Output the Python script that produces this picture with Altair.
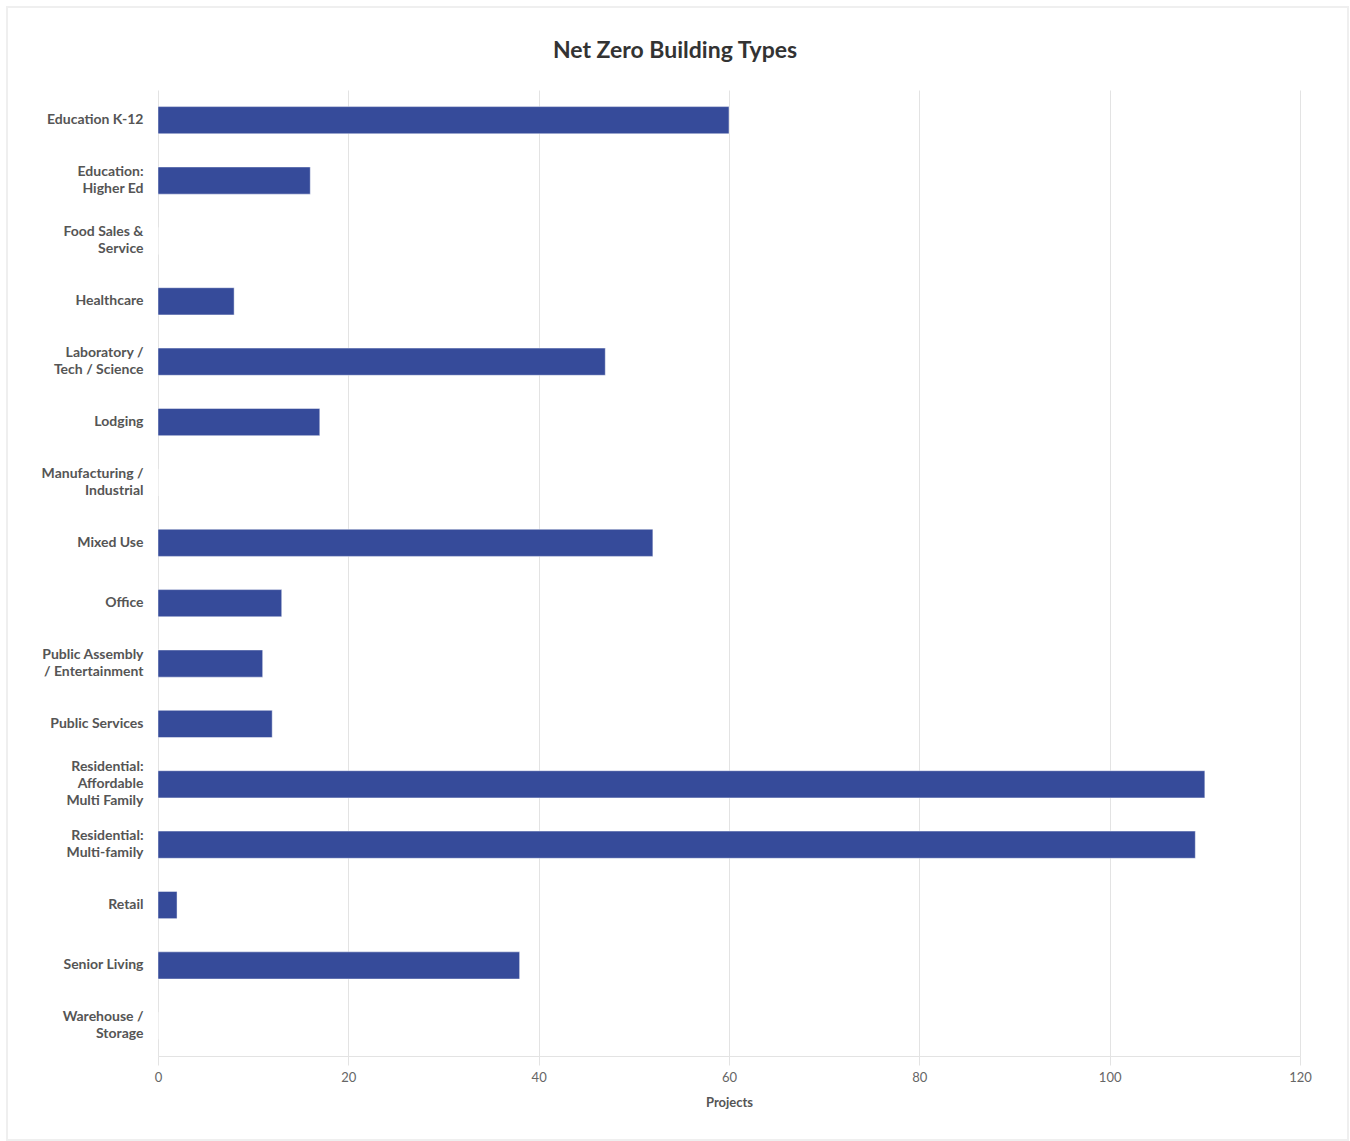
import altair as alt
import pandas as pd

categories = [
    "Education K-12",
    "Education:|Higher Ed",
    "Food Sales &|Service",
    "Healthcare",
    "Laboratory /|Tech / Science",
    "Lodging",
    "Manufacturing /|Industrial",
    "Mixed Use",
    "Office",
    "Public Assembly|/ Entertainment",
    "Public Services",
    "Residential:|Affordable|Multi Family",
    "Residential:|Multi-family",
    "Retail",
    "Senior Living",
    "Warehouse /|Storage",
]
projects = [60, 16, 0, 8, 47, 17, 0, 52, 13, 11, 12, 110, 109, 2, 38, 0]
x_ticks = [0, 20, 40, 60, 80, 100, 120]

df = pd.DataFrame({"category": categories, "projects": projects})

FONT = "Lato"

bars = alt.Chart(df).mark_bar(
    color="#364B9A", stroke="#ffffff", strokeOpacity=0.45, strokeWidth=1
).encode(
    y=alt.Y(
        "category:N",
        sort=categories,
        scale=alt.Scale(paddingInner=0.55, paddingOuter=0.275),
        axis=alt.Axis(
            title=None,
            labelExpr="split(datum.value, '|')",
            labelFont=FONT,
            labelFontSize=14,
            labelFontWeight="bold",
            labelColor="#555555",
            labelLineHeight=17,
            labelPadding=15,
            labelOffset={
                "condition": [
                    {"test": "length(split(datum.value, '|')) >= 3", "value": -17},
                    {"test": "length(split(datum.value, '|')) == 2", "value": -8.5},
                ],
                "value": 0,
            },
            ticks=False,
            domain=False,
            grid=False,
            labelLimit=300,
        ),
    ),
    x=alt.X(
        "projects:Q",
        scale=alt.Scale(domain=[0, 120], nice=False),
        axis=alt.Axis(
            title="Projects",
            values=x_ticks,
            titleFont=FONT,
            titleFontSize=13,
            titleFontWeight="bold",
            titleColor="#555555",
            titlePadding=12,
            labelFont=FONT,
            labelFontSize=13,
            labelColor="#666666",
            labelPadding=6,
            labelFlush=False,
            tickColor="#e3e3e3",
            tickSize=9,
            domainColor="#e3e3e3",
            gridColor="#e3e3e3",
        ),
    ),
)

frame = alt.Chart(pd.DataFrame({"a": [0]})).mark_rect(
    fill=None, stroke="#efefef", strokeWidth=2, clip=False
).encode(
    x=alt.value(-151),
    x2=alt.value(1190),
    y=alt.value(-83),
    y2=alt.value(1050),
)

chart = alt.layer(frame, bars).properties(
    width=1142,
    height=966,
    background="white",
    padding={"left": 158, "top": 90, "right": 50, "bottom": 85},
    autosize=alt.AutoSizeParams(type="none"),
    title=alt.TitleParams(
        "Net Zero Building Types",
        font=FONT,
        fontSize=23,
        fontWeight="bold",
        color="#333333",
        anchor="middle",
        frame="group",
        dx=-54,
        dy=87,
        offset=30,
    ),
).configure_view(stroke=None)

chart.save("out.html", embed_options={"renderer": "svg", "actions": False})
